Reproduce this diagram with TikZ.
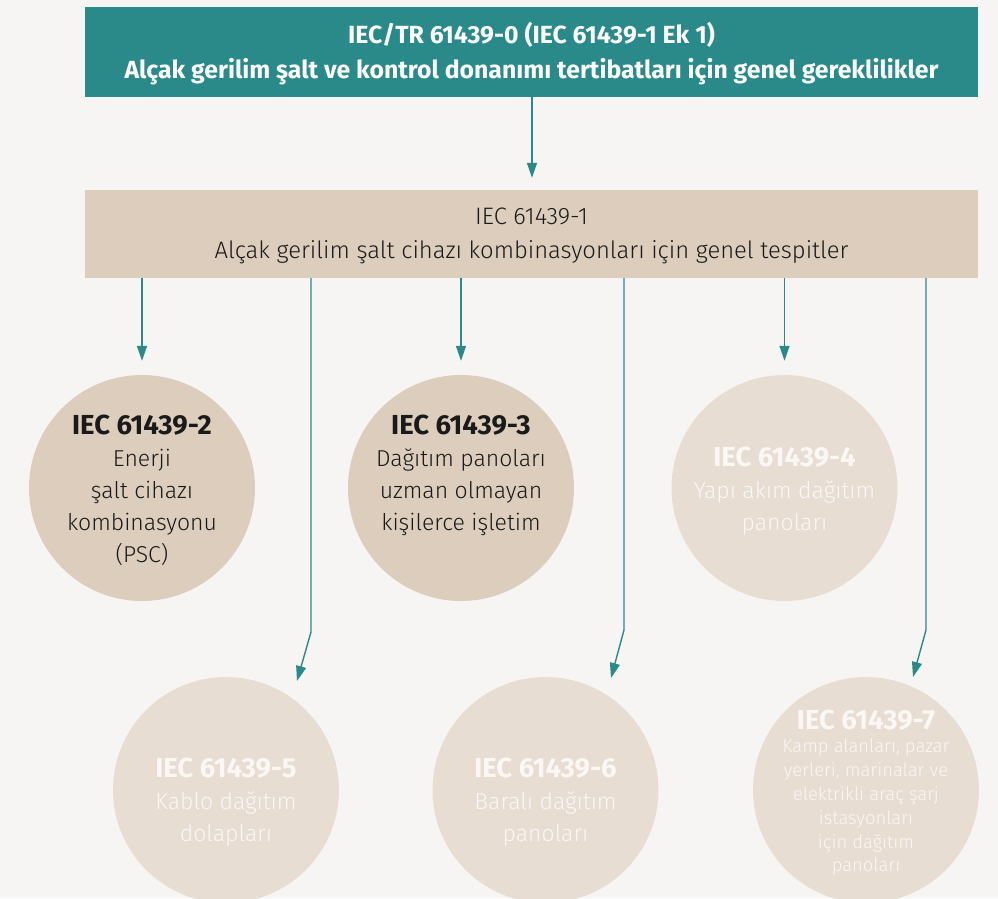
\documentclass[tikz,border=0pt]{standalone}
\usepackage{fontspec}
\IfFontExistsTF{Fira Sans Book}
  {\setmainfont{Fira Sans Book}[BoldFont=Fira Sans SemiBold]}
  {\IfFontExistsTF{Fira Sans Light}
    {\setmainfont{Fira Sans Light}[BoldFont=Fira Sans SemiBold]}
    {\setmainfont{Fira Sans}}}
\newfontfamily\heavyfont{Fira Sans}
\usetikzlibrary{arrows.meta,calc}
\definecolor{bg}{HTML}{F7F5F3}
\definecolor{teal}{HTML}{298A89}
\definecolor{beige}{HTML}{DDCDBC}
\definecolor{lbeige}{HTML}{E8DDD3}
\definecolor{ltext}{HTML}{FAF7F4}
\definecolor{dtext}{HTML}{1A1A1A}
\newcommand{\ttl}[1]{{\fontsize{27.5}{32}\selectfont\heavyfont\bfseries #1}}
\tikzset{
  conn/.style={draw=teal, line width=1.4pt, -{Triangle[length=15pt,width=10pt]}},
  dot/.style={circle, minimum size=226pt, inner sep=0pt},
  dk/.style={dot, fill=beige},
  lt/.style={dot, fill=lbeige},
  lbl/.style={align=center, inner sep=0pt, font=\fontsize{23}{32}\selectfont},
  small/.style={align=center, inner sep=0pt, font=\fontsize{18.4}{23.8}\selectfont},
  hdrb/.style={inner sep=0pt, font=\fontsize{24.8}{24.8}\selectfont\heavyfont\bfseries},
  hdr/.style={inner sep=0pt, font=\fontsize{23.8}{23.8}\selectfont},
}
\begin{document}
\begin{tikzpicture}[x=1pt,y=-1pt]
\useasboundingbox (0,0) rectangle (998,898);
\clip (0,0) rectangle (998,898);
\fill[bg] (0,0) rectangle (998,898);
% top box
\node[fill=teal, minimum width=893pt, minimum height=90pt, inner sep=0pt] (top) at (531.5,52) {};
\node[hdrb, text=white] (t1) at (531.5,35) {IEC/TR 61439-0 (IEC 61439-1 Ek 1)};
\node[hdrb, text=white] (t2) at (531.5,72) {Alçak gerilim şalt ve kontrol donanımı tertibatları için genel gereklilikler};
% second box
\node[fill=beige, minimum width=893pt, minimum height=88pt, inner sep=0pt] (box) at (531.5,234) {};
\node[hdr, text=dtext] (b1) at (531.5,216) {IEC 61439-1};
\node[hdr, text=dtext] (b2) at (531.5,252) {Alçak gerilim şalt cihazı kombinasyonları için genel tespitler};
% circles
\node[dk] (c2) at (142,488) {};
\node[dk] (c3) at (461,488) {};
\node[lt] (c4) at (784.5,488) {};
\node[lt] (c5) at (226,790) {};
\node[lt] (c6) at (545.5,790) {};
\node[lt] (c7) at (866,790) {};
% circle texts
\node[lbl, text=dtext, anchor=north] (l2) at (142,415) {\ttl{IEC 61439-2}\\Enerji\\şalt cihazı\\kombinasyonu\\(PSC)};
\node[lbl, text=dtext, anchor=north] (l3) at (461,415) {\ttl{IEC 61439-3}\\Dağıtım panoları\\uzman olmayan\\kişilerce işletim};
\node[lbl, text=ltext, anchor=north] (l4) at (784.5,447) {\ttl{IEC 61439-4}\\Yapı akım dağıtım\\panoları};
\node[lbl, text=ltext, anchor=north] (l5) at (226,758) {\ttl{IEC 61439-5}\\Kablo dağıtım\\dolapları};
\node[lbl, text=ltext, anchor=north] (l6) at (545.5,758) {\ttl{IEC 61439-6}\\Baralı dağıtım\\panoları};
\node[lbl, text=ltext, anchor=north] (l7h) at (866,710) {\ttl{IEC 61439-7}};
\node[small, text=ltext, anchor=north] (l7) at (866,739) {Kamp alanları, pazar\\yerleri, marinalar ve\\elektrikli araç şarj\\istasyonları\\için dağıtım\\panoları};
% connectors
\draw[conn] (top.south -| 532,0) -- ($(box.north -| 532,0)+(0,-12)$);
\draw[conn] (box.south -| c2) -- ($(c2.north)+(0,-14)$);
\draw[conn] (box.south -| c3.north) -- ($(c3.north)+(0,-14)$);
\draw[conn] (box.south -| c4) -- ($(c4.north)+(0,-14)$);
\coordinate (k5) at (311,632);
\coordinate (e5) at (297,681);
\coordinate (k6) at (624,630);
\coordinate (e6) at (611,678);
\coordinate (k7) at (926,630);
\coordinate (e7) at (913,677);
\draw[conn] (box.south -| k5) -- (k5) -- (e5);
\draw[conn] (box.south -| k6) -- (k6) -- (e6);
\draw[conn] (box.south -| k7) -- (k7) -- (e7);
\end{tikzpicture}
\end{document}
